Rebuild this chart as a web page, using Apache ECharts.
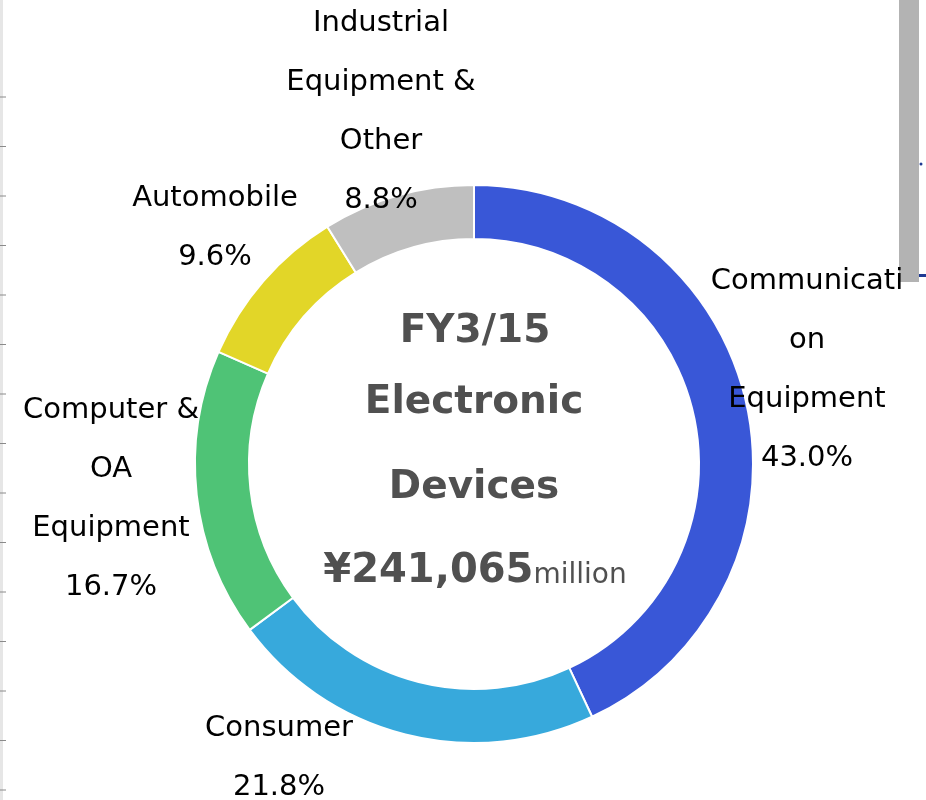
<!DOCTYPE html>
<html>
<head>
<meta charset="utf-8">
<script src="https://cdn.jsdelivr.net/npm/echarts@6/dist/echarts.min.js"></script>
<style>
  html, body { margin: 0; padding: 0; background: #fff; }
  #chart { width: 926px; height: 800px; }
</style>
</head>
<body>
<div id="chart"></div>
<script>
// segments, clockwise from 12 o'clock
const categories = ['Communication Equipment', 'Consumer', 'Computer & OA Equipment', 'Automobile', 'Industrial Equipment & Other']
const shares = [43.0, 21.8, 16.7, 9.6, 8.8]
// label text as wrapped in the original
const labelLines = [
  ['Communicati', 'on', 'Equipment'],
  ['Consumer'],
  ['Computer &', 'OA', 'Equipment'],
  ['Automobile'],
  ['Industrial', 'Equipment &', 'Other']
]
const centerLines = ['FY3/15', 'Electronic', 'Devices']
const totalAmount = '¥241,065'
const totalUnit = 'million'

const colors = ['#3957D7', '#37A9DC', '#4FC376', '#E2D628', '#BFBFBF']
// label block centres
const labelPos = [[807, 370], [279, 758], [111, 499], [215, 228], [381, 112]]

const chart = echarts.init(document.getElementById('chart'))

// decorative left strip with ticks
const leftTicks = []
for (let i = 0; i < 15; i++) {
  leftTicks.push({
    type: 'line',
    shape: { x1: 0, y1: 97 + i * 49.5, x2: 6, y2: 97 + i * 49.5 },
    style: { stroke: '#8a8a8a', lineWidth: 1 }
  })
}

const centerFont = 'bold 39px "DejaVu Sans"'

const options = {
  backgroundColor: '#fff',
  animation: false,
  color: colors,
  graphic: [
    { type: 'rect', shape: { x: 0, y: 0, width: 3, height: 800 }, style: { fill: '#e6e6e6' } },
    ...leftTicks,
    { type: 'rect', shape: { x: 899, y: 0, width: 20, height: 282 }, style: { fill: '#b3b3b3' } },
    { type: 'circle', shape: { cx: 921, cy: 164, r: 1.5 }, style: { fill: '#1f3a93' } },
    { type: 'rect', shape: { x: 919, y: 274, width: 7, height: 3 }, style: { fill: '#1f3a93' } },
    {
      type: 'text', x: 475, y: 332,
      style: { text: centerLines[0], font: centerFont, fill: '#505050', textAlign: 'center', textVerticalAlign: 'middle' }
    },
    {
      type: 'text', x: 474, y: 403,
      style: { text: centerLines[1], font: centerFont, fill: '#505050', textAlign: 'center', textVerticalAlign: 'middle' }
    },
    {
      type: 'text', x: 474, y: 488,
      style: { text: centerLines[2], font: centerFont, fill: '#505050', textAlign: 'center', textVerticalAlign: 'middle' }
    },
    {
      type: 'text', x: 475, y: 572,
      style: {
        text: '{a|' + totalAmount + '}{b|' + totalUnit + '}',
        textAlign: 'center',
        textVerticalAlign: 'middle',
        rich: {
          a: { font: 'bold 40px "DejaVu Sans"', fill: '#505050', verticalAlign: 'bottom' },
          b: { font: '28px "DejaVu Sans"', fill: '#505050', verticalAlign: 'bottom', padding: [0, 0, 2, 0] }
        }
      }
    }
  ],
  series: [
    {
      type: 'pie',
      center: [474, 464],
      radius: [225, 279],
      startAngle: 90,
      clockwise: true,
      avoidLabelOverlap: false,
      itemStyle: {
        borderColor: '#fff',
        borderWidth: 2
      },
      label: {
        show: true,
        position: 'outside',
        color: '#000',
        fontFamily: 'DejaVu Sans',
        fontSize: 29,
        lineHeight: 59,
        align: 'center',
        formatter: p => labelLines[p.dataIndex].join('\n') + '\n' + p.value.toFixed(1) + '%'
      },
      labelLine: { show: false },
      labelLayout: p => ({
        x: labelPos[p.dataIndex][0],
        y: labelPos[p.dataIndex][1],
        align: 'center',
        verticalAlign: 'middle'
      }),
      emphasis: { disabled: true },
      data: categories.map((name, i) => ({ name: name, value: shares[i] }))
    }
  ]
}

chart.setOption(options)
window.addEventListener('resize', () => {
  chart.resize()
})
</script>
</body>
</html>
